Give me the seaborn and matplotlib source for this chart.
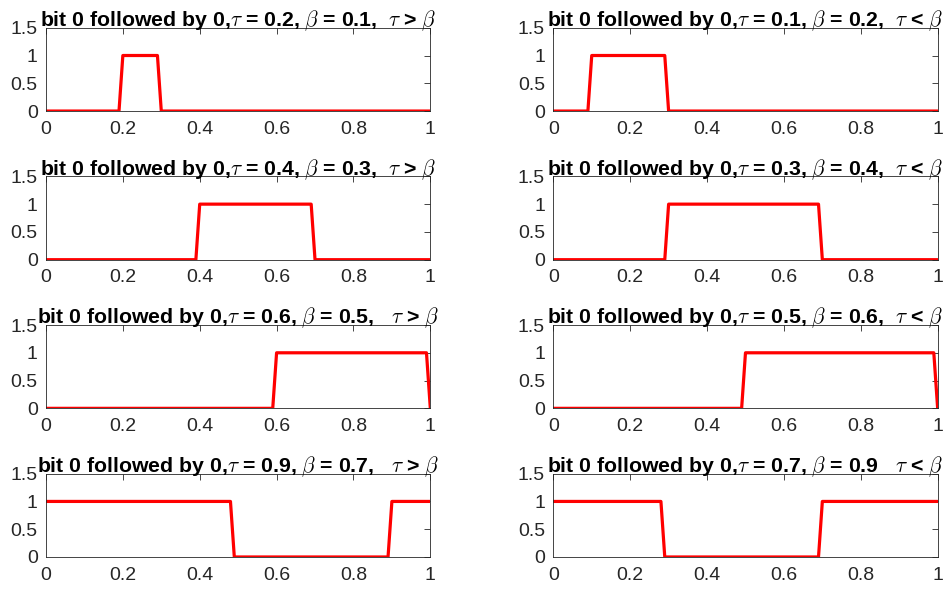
import numpy as np
import pandas as pd
import matplotlib
matplotlib.use("Agg")
import matplotlib.pyplot as plt
import seaborn as sns

# panel parameters, row by row (left, right)
taus = [0.2, 0.1, 0.4, 0.3, 0.6, 0.5, 0.9, 0.7]
betas = [0.1, 0.2, 0.3, 0.4, 0.5, 0.6, 0.7, 0.9]
relations = [">", "<", ">", "<", ">", "<", ">", "<"]
title_seps = [",  ", ",  ", ",  ", ",  ", ",   ", ",  ", ",   ", "   "]

# waveform breakpoints
wave_x = [
    [0, 0.19, 0.2, 0.29, 0.3, 1],
    [0, 0.09, 0.1, 0.29, 0.3, 1],
    [0, 0.39, 0.4, 0.69, 0.7, 1],
    [0, 0.29, 0.3, 0.69, 0.7, 1],
    [0, 0.59, 0.6, 0.99, 1.0],
    [0, 0.49, 0.5, 0.99, 1.0],
    [0, 0.48, 0.49, 0.89, 0.9, 1],
    [0, 0.28, 0.29, 0.69, 0.7, 1],
]
wave_y = [
    [0, 0, 1, 1, 0, 0],
    [0, 0, 1, 1, 0, 0],
    [0, 0, 1, 1, 0, 0],
    [0, 0, 1, 1, 0, 0],
    [0, 0, 1, 1, 0],
    [0, 0, 1, 1, 0],
    [1, 1, 0, 0, 1, 1],
    [1, 1, 0, 0, 1, 1],
]

x_ticks = [0, 0.2, 0.4, 0.6, 0.8, 1]
x_labels = ["0", "0.2", "0.4", "0.6", "0.8", "1"]
y_ticks = [0, 0.5, 1, 1.5]
y_labels = ["0", "0.5", "1", "1.5"]

sns.set_style("white")
plt.rcParams['font.family'] = ['Liberation Sans', 'DejaVu Sans']
plt.rcParams['mathtext.fontset'] = 'cm'

axis_gray = (0.15, 0.15, 0.15)

fig, axes = plt.subplots(4, 2, figsize=(9.5, 5.95), dpi=100)
fig.subplots_adjust(left=0.0484, right=0.987, top=0.9534, bottom=0.0639,
                    wspace=0.32, hspace=0.784)

for i, ax in enumerate(axes.flat):
    df = pd.DataFrame({"t": wave_x[i], "v": wave_y[i]})
    sns.lineplot(data=df, x="t", y="v", ax=ax, color="red", lw=2.3,
                 sort=False, estimator=None)
    ax.set_xlim(0, 1)
    ax.set_ylim(0, 1.5)
    ax.set_xticks(x_ticks)
    ax.set_xticklabels(x_labels)
    ax.set_yticks(y_ticks)
    ax.set_yticklabels(y_labels)
    ax.set_xlabel("")
    ax.set_ylabel("")
    ax.tick_params(direction="in", length=4, width=0.6, colors=axis_gray,
                   labelsize=14, top=True, right=True)
    ax.tick_params(axis="x", pad=7)
    ax.tick_params(axis="y", pad=6)
    for sp in ax.spines.values():
        sp.set_visible(True)
        sp.set_color(axis_gray)
        sp.set_linewidth(0.6)
    title = (f"bit 0 followed by 0,$\\tau$ = {taus[i]}, $\\beta$ = {betas[i]}"
             f"{title_seps[i]}$\\tau$ {relations[i]} $\\beta$")
    ax.set_title(title, fontsize=15.3, fontweight="bold", pad=1, color="black")

fig.savefig("out.png", dpi=100)
